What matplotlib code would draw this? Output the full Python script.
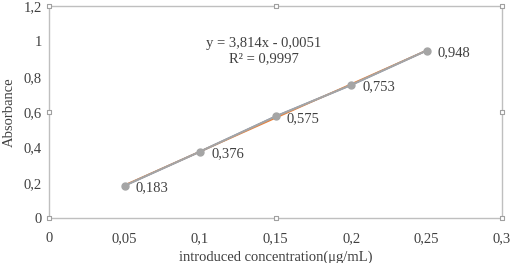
import matplotlib.pyplot as plt
import numpy as np

# calibration data
conc = [0.05, 0.1, 0.15, 0.2, 0.25]
absorb = [0.183, 0.376, 0.575, 0.753, 0.948]
labels = ['0,183', '0,376', '0,575', '0,753', '0,948']
slope, intercept = 3.814, -0.0051

xticks = [0, 0.05, 0.1, 0.15, 0.2, 0.25, 0.3]
xticklabels = ['0', '0,05', '0,1', '0,15', '0,2', '0,25', '0,3']
yticks = [0, 0.2, 0.4, 0.6, 0.8, 1.0, 1.2]
yticklabels = ['0', '0,2', '0,4', '0,6', '0,8', '1', '1,2']

plt.rcParams['font.family'] = ['Liberation Serif', 'DejaVu Serif']
txt = '#404040'
fs = 10.5

fig = plt.figure(figsize=(5.12, 2.63), dpi=100)
ax = fig.add_axes([0.0957, 0.171, 0.885, 0.806])

# trend line, data line, markers
xs = np.array(conc)
ax.plot(conc, absorb, color='#4472c4', lw=1.2, zorder=2)
ax.plot(xs, slope * xs + intercept, color='#ed7d31', lw=1.2, zorder=3)
ax.plot(conc, absorb, color='#a5a5a5', lw=1.5, marker='o', ms=5, zorder=4)

for x, y, s in zip(conc, absorb, labels):
    ax.annotate(s, xy=(x, y), xytext=(8, -1.5), textcoords='offset points',
                ha='left', va='center', fontsize=fs, color=txt)

ax.text(0.1424, 0.99, 'y = 3,814x - 0,0051', ha='center', va='center', fontsize=fs, color=txt)
ax.text(0.1424, 0.90, 'R² = 0,9997', ha='center', va='center', fontsize=fs, color=txt)

ax.set_xlim(0, 0.3)
ax.set_ylim(0, 1.2)
ax.set_xticks(xticks)
ax.set_xticklabels(xticklabels)
ax.set_yticks(yticks)
ax.set_yticklabels(yticklabels)
ax.tick_params(length=0, labelsize=fs, labelcolor=txt)
ax.tick_params(axis='x', pad=10)
ax.tick_params(axis='y', pad=5)
for sp in ax.spines.values():
    sp.set_color('#bfbfbf')
    sp.set_linewidth(1.0)

# selection handles on the frame
hx = [0, 0.15, 0.3, 0, 0.3, 0, 0.15, 0.3]
hy = [0, 0, 0, 0.6, 0.6, 1.2, 1.2, 1.2]
ax.scatter(hx, hy, marker='s', s=12, facecolor='white', edgecolor='#a0a0a0',
           linewidth=0.8, zorder=6, clip_on=False)

ax.set_xlabel('introduced concentration(μg/mL)', fontsize=fs, color=txt, labelpad=4)
ax.set_ylabel('Absorbance', fontsize=fs, color=txt, labelpad=6)

fig.savefig('out.png', dpi=100)
